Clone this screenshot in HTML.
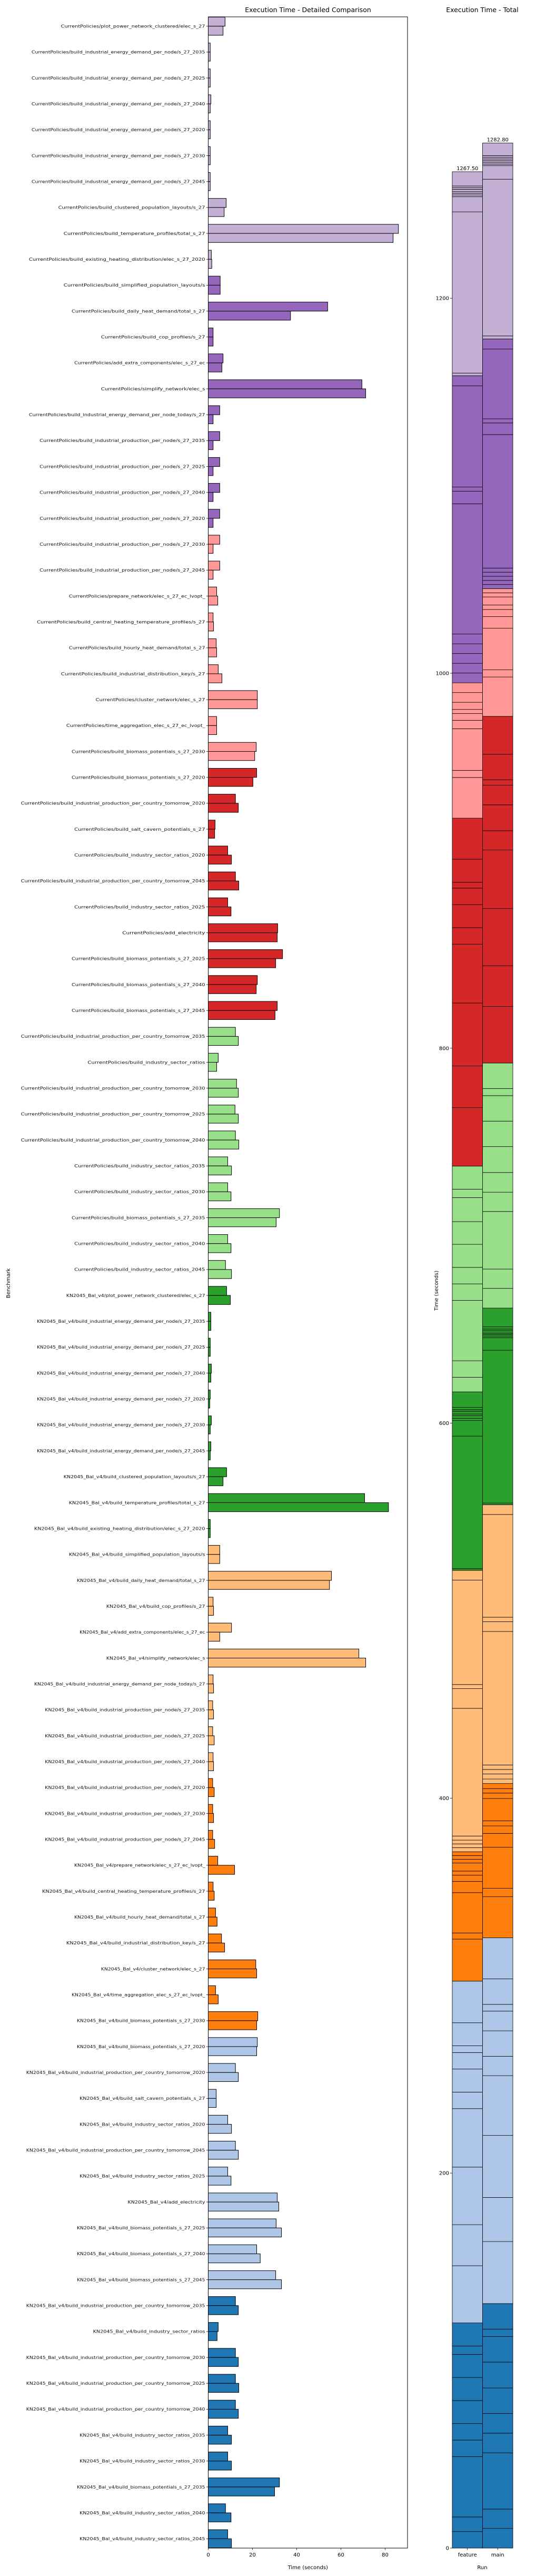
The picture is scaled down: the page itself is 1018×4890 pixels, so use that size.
<!DOCTYPE html>
<html><head><meta charset="utf-8"><title>Execution Time</title>
<style>
html,body{margin:0;padding:0;background:#fff;}
svg{display:block;font-family:"DejaVu Sans","Liberation Sans",sans-serif;}
</style></head>
<body>
<svg id="chart" width="1018" height="4890" viewBox="0 0 1018 4890" xmlns="http://www.w3.org/2000/svg"></svg>
<script>
const CP="CurrentPolicies/", KN="KN2045_Bal_v4/";
const categories=[
CP+"plot_power_network_clustered/elec_s_27",
CP+"build_industrial_energy_demand_per_node/s_27_2035",
CP+"build_industrial_energy_demand_per_node/s_27_2025",
CP+"build_industrial_energy_demand_per_node/s_27_2040",
CP+"build_industrial_energy_demand_per_node/s_27_2020",
CP+"build_industrial_energy_demand_per_node/s_27_2030",
CP+"build_industrial_energy_demand_per_node/s_27_2045",
CP+"build_clustered_population_layouts/s_27",
CP+"build_temperature_profiles/total_s_27",
CP+"build_existing_heating_distribution/elec_s_27_2020",
CP+"build_simplified_population_layouts/s",
CP+"build_daily_heat_demand/total_s_27",
CP+"build_cop_profiles/s_27",
CP+"add_extra_components/elec_s_27_ec",
CP+"simplify_network/elec_s",
CP+"build_industrial_energy_demand_per_node_today/s_27",
CP+"build_industrial_production_per_node/s_27_2035",
CP+"build_industrial_production_per_node/s_27_2025",
CP+"build_industrial_production_per_node/s_27_2040",
CP+"build_industrial_production_per_node/s_27_2020",
CP+"build_industrial_production_per_node/s_27_2030",
CP+"build_industrial_production_per_node/s_27_2045",
CP+"prepare_network/elec_s_27_ec_lvopt_",
CP+"build_central_heating_temperature_profiles/s_27",
CP+"build_hourly_heat_demand/total_s_27",
CP+"build_industrial_distribution_key/s_27",
CP+"cluster_network/elec_s_27",
CP+"time_aggregation_elec_s_27_ec_lvopt_",
CP+"build_biomass_potentials_s_27_2030",
CP+"build_biomass_potentials_s_27_2020",
CP+"build_industrial_production_per_country_tomorrow_2020",
CP+"build_salt_cavern_potentials_s_27",
CP+"build_industry_sector_ratios_2020",
CP+"build_industrial_production_per_country_tomorrow_2045",
CP+"build_industry_sector_ratios_2025",
CP+"add_electricity",
CP+"build_biomass_potentials_s_27_2025",
CP+"build_biomass_potentials_s_27_2040",
CP+"build_biomass_potentials_s_27_2045",
CP+"build_industrial_production_per_country_tomorrow_2035",
CP+"build_industry_sector_ratios",
CP+"build_industrial_production_per_country_tomorrow_2030",
CP+"build_industrial_production_per_country_tomorrow_2025",
CP+"build_industrial_production_per_country_tomorrow_2040",
CP+"build_industry_sector_ratios_2035",
CP+"build_industry_sector_ratios_2030",
CP+"build_biomass_potentials_s_27_2035",
CP+"build_industry_sector_ratios_2040",
CP+"build_industry_sector_ratios_2045",
KN+"plot_power_network_clustered/elec_s_27",
KN+"build_industrial_energy_demand_per_node/s_27_2035",
KN+"build_industrial_energy_demand_per_node/s_27_2025",
KN+"build_industrial_energy_demand_per_node/s_27_2040",
KN+"build_industrial_energy_demand_per_node/s_27_2020",
KN+"build_industrial_energy_demand_per_node/s_27_2030",
KN+"build_industrial_energy_demand_per_node/s_27_2045",
KN+"build_clustered_population_layouts/s_27",
KN+"build_temperature_profiles/total_s_27",
KN+"build_existing_heating_distribution/elec_s_27_2020",
KN+"build_simplified_population_layouts/s",
KN+"build_daily_heat_demand/total_s_27",
KN+"build_cop_profiles/s_27",
KN+"add_extra_components/elec_s_27_ec",
KN+"simplify_network/elec_s",
KN+"build_industrial_energy_demand_per_node_today/s_27",
KN+"build_industrial_production_per_node/s_27_2035",
KN+"build_industrial_production_per_node/s_27_2025",
KN+"build_industrial_production_per_node/s_27_2040",
KN+"build_industrial_production_per_node/s_27_2020",
KN+"build_industrial_production_per_node/s_27_2030",
KN+"build_industrial_production_per_node/s_27_2045",
KN+"prepare_network/elec_s_27_ec_lvopt_",
KN+"build_central_heating_temperature_profiles/s_27",
KN+"build_hourly_heat_demand/total_s_27",
KN+"build_industrial_distribution_key/s_27",
KN+"cluster_network/elec_s_27",
KN+"time_aggregation_elec_s_27_ec_lvopt_",
KN+"build_biomass_potentials_s_27_2030",
KN+"build_biomass_potentials_s_27_2020",
KN+"build_industrial_production_per_country_tomorrow_2020",
KN+"build_salt_cavern_potentials_s_27",
KN+"build_industry_sector_ratios_2020",
KN+"build_industrial_production_per_country_tomorrow_2045",
KN+"build_industry_sector_ratios_2025",
KN+"add_electricity",
KN+"build_biomass_potentials_s_27_2025",
KN+"build_biomass_potentials_s_27_2040",
KN+"build_biomass_potentials_s_27_2045",
KN+"build_industrial_production_per_country_tomorrow_2035",
KN+"build_industry_sector_ratios",
KN+"build_industrial_production_per_country_tomorrow_2030",
KN+"build_industrial_production_per_country_tomorrow_2025",
KN+"build_industrial_production_per_country_tomorrow_2040",
KN+"build_industry_sector_ratios_2035",
KN+"build_industry_sector_ratios_2030",
KN+"build_biomass_potentials_s_27_2035",
KN+"build_industry_sector_ratios_2040",
KN+"build_industry_sector_ratios_2045"
];
const featureTimes=[7.6,0.9,0.9,1.2,0.9,0.9,0.9,8.1,86.0,1.4,5.4,54.0,2.2,6.7,
69.5,5.2,5.2,5.2,5.2,5.2,5.2,5.2,3.8,2.2,3.6,4.5,22.2,3.8,21.7,
21.9,12.3,3.1,8.8,12.3,8.8,31.4,33.6,22.2,31.2,12.3,4.5,12.8,12.1,
12.3,8.8,8.8,32.2,8.8,7.8,8.3,1.2,0.9,1.4,0.9,1.4,1.2,8.3,
70.7,0.9,5.2,55.7,2.2,10.5,68.1,2.2,2.0,2.0,2.2,2.0,2.0,2.0,
4.3,2.2,3.3,6.0,21.5,3.3,22.4,22.2,12.3,3.6,8.8,12.3,8.8,31.2,30.7,
21.9,30.5,12.3,4.5,12.3,12.3,12.3,8.8,8.8,32.2,7.8,8.8];
const mainTimes=[6.7,0.9,0.9,0.9,0.9,0.9,0.9,7.2,83.6,1.6,5.4,37.2,2.2,6.2,
71.2,2.2,2.2,2.2,2.2,2.2,2.2,2.2,4.3,2.4,3.8,6.2,22.2,3.8,21.0,
20.2,13.6,2.9,10.5,13.8,10.3,31.2,30.5,21.7,30.2,13.6,3.8,13.6,13.6,
13.8,10.5,10.3,30.7,10.3,10.5,10.0,1.2,0.9,1.2,0.7,0.9,0.9,6.7,
81.5,0.9,5.2,54.8,2.4,5.2,71.2,2.4,2.4,2.7,2.4,2.7,2.4,2.9,
11.9,2.7,4.0,7.4,21.9,4.5,21.9,21.9,13.6,3.6,10.5,13.6,10.3,31.9,33.1,
23.5,33.1,13.6,4.0,13.6,13.8,13.6,10.5,10.5,30.0,10.3,10.5];
const runs=["feature","main"];
const xTicks=[0,20,40,60,80];
const yTicksTotal=[0,200,400,600,800,1000,1200];
// colour groups (start index of each colour band, top to bottom)
const groupStarts=[0,10,20,29,39,49,59,68,78,88];
const groupColors=["#c5b0d5","#9467bd","#ff9896","#d62728","#98df8a","#2ca02c","#ffbb78","#ff7f0e","#aec7e8","#1f77b4"];

const NS="http://www.w3.org/2000/svg";
const svg=document.getElementById("chart");
function mk(tag,attrs,parent){const e=document.createElementNS(NS,tag);for(const k in attrs)e.setAttribute(k,attrs[k]);(parent||svg).appendChild(e);return e;}
function colorOf(i){let c=groupColors[0];for(let g=0;g<groupStarts.length;g++)if(i>=groupStarts[g])c=groupColors[g];return c;}

// ---- left chart ----
const L={x0:395.5,x1:774,y0:32,y1:4837};
const xScale=v=>L.x0+v*4.2;
const step=(L.y1-L.y0)/(categories.length-1+0.72);
const yCenter=i=>L.y0+(i+0.36)*step;
const barH=0.35*step;

const t1=mk("text",{x:585,y:23,"text-anchor":"middle","font-size":"12.5"});
t1.textContent="Execution Time - Detailed Comparison";



const gBars=mk("g",{});


categories.forEach((c,i)=>{
  const cy=yCenter(i), col=colorOf(i);
  const r1=mk("rect",{x:L.x0,y:cy-barH,width:Math.max(0,xScale(featureTimes[i])-L.x0),height:barH,fill:col,stroke:"#000","stroke-width":1},gBars);
  
  
  const r2=mk("rect",{x:L.x0,y:cy,width:Math.max(0,xScale(mainTimes[i])-L.x0),height:barH,fill:col,stroke:"#000","stroke-width":1},gBars);
  
  
  mk("line",{x1:L.x0-3.5,x2:L.x0,y1:cy,y2:cy,stroke:"#000","stroke-width":0.8});
  const tl=mk("text",{x:L.x0-6,y:cy+2.8,"text-anchor":"end","font-size":"8.3",textLength:(c.length*5.07).toFixed(1),lengthAdjust:"spacingAndGlyphs",fill:"#111"});
  tl.textContent=c;
  
  
});
const frame=mk("rect",{x:L.x0,y:L.y0,width:L.x1-L.x0,height:L.y1-L.y0,fill:"none",stroke:"#000","stroke-width":1});


xTicks.forEach(v=>{
  const x=xScale(v);
  mk("line",{x1:x,x2:x,y1:L.y1,y2:L.y1+3.5,stroke:"#000","stroke-width":0.8});
  const t=mk("text",{x:x,y:L.y1+16,"text-anchor":"middle","font-size":"10"});
  t.textContent=v;
  
  
});
const xl=mk("text",{x:(L.x0+L.x1)/2,y:4877,"text-anchor":"middle","font-size":"10"});
xl.textContent="Time (seconds)";


const yl=mk("text",{x:0,y:0,"text-anchor":"middle","font-size":"10",transform:"translate(19,2436) rotate(-90)"});
yl.textContent="Benchmark";



// ---- right chart (stacked totals) ----
const R={x0:859,x1:974,base:4837};
const yT=v=>R.base-v*3.559;
const colW=(R.x1-R.x0)/runs.length;
const t2=mk("text",{x:916,y:23,"text-anchor":"middle","font-size":"12.5"});
t2.textContent="Execution Time - Total";


[featureTimes,mainTimes].forEach((arr,r)=>{
  const g=mk("g",{});
  
  
  let cum=0;
  for(let i=categories.length-1;i>=0;i--){
    const v=arr[i];
    const seg=mk("rect",{x:R.x0+r*colW,y:yT(cum+v),width:colW,height:v*3.559,fill:colorOf(i),stroke:"#000","stroke-width":0.8},g);
    
    
    cum+=v;
  }
  const lab=mk("text",{x:R.x0+(r+0.5)*colW,y:yT(cum)-3,"text-anchor":"middle","font-size":"10"});
  lab.textContent=cum.toFixed(2);
  
  
  const cx=R.x0+(r+0.5)*colW;
  mk("line",{x1:cx,x2:cx,y1:R.base,y2:R.base+3.5,stroke:"#000","stroke-width":0.8});
  const rl=mk("text",{x:cx,y:R.base+16,"text-anchor":"middle","font-size":"10"});
  rl.textContent=runs[r];
  
  
});
yTicksTotal.forEach(v=>{
  const y=yT(v);
  mk("line",{x1:R.x0-4,x2:R.x0-0.5,y1:y,y2:y,stroke:"#000","stroke-width":0.8});
  const t=mk("text",{x:R.x0-6,y:y+3.5,"text-anchor":"end","font-size":"10"});
  t.textContent=v;
  
  
});
const rx=mk("text",{x:916,y:4877,"text-anchor":"middle","font-size":"10"});
rx.textContent="Run";


const ry=mk("text",{x:0,y:0,"text-anchor":"middle","font-size":"10",transform:"translate(832,2450) rotate(-90)"});
ry.textContent="Time (seconds)";


</script>
</body></html>
